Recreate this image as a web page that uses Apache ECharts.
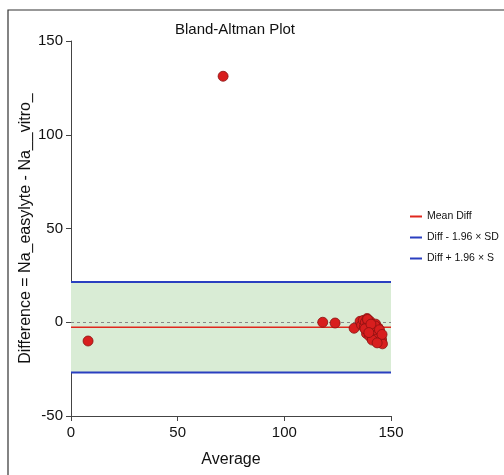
<!DOCTYPE html>
<html><head><meta charset="utf-8">
<script src="https://cdn.jsdelivr.net/npm/echarts@6/dist/echarts.min.js"></script>
<style>html,body{margin:0;padding:0;background:#fff}#c{width:504px;height:475px}</style>
</head><body><div id="c"></div>
<script>
const xTicks = [0, 50, 100, 150];
const yTicks = [-50, 0, 50, 100, 150];
const meanDiff = -2.7;
const lowerLimit = -26.8;
const upperLimit = 21.5;
const avgValues = [8, 71.3, 118, 123.8, 132.7, 135.5, 136.2, 137, 137.5, 138, 138.3, 138.8, 139.2, 139.5, 139.8, 140.2, 140.5, 140.8, 141, 141.3, 141.6, 142, 142.2, 142.5, 142.8, 143, 143.3, 143.6, 144, 144.2, 144.5, 144.8, 145, 145.3, 138.5, 140, 141.8, 143.8, 139, 142.6, 145.6, 137.8, 140.6, 143.2, 144.6, 146, 145.8, 141.2, 143.5, 139.6];
const diffValues = [-10, 131.2, 0, -0.4, -3.2, 0.5, -1.5, 1, -2.5, 0, -4, 2, -1, -5, -2, 0.5, -3, -6, -1.5, -4.5, -2.5, -7, -3.5, -5.5, -1, -8, -4, -6.5, -3, -9, -5, -7.5, -10.5, -8.5, -6, -7.5, -8, -6, 1.5, -2, -9.5, -3.5, -1, -9, -4, -11.5, -6.5, -9.5, -11, -5.5];
const seriesNames = ['Mean Diff', 'Diff - 1.96 × SD', 'Diff + 1.96 × S'];

const points = avgValues.map((x, i) => [x, diffValues[i]]);
const chart = echarts.init(document.getElementById('c'));
const axisColor = '#444';
const ff = 'Liberation Sans';
chart.setOption({
  animation: false,
  title: { text: 'Bland-Altman Plot', left: 230, top: 17, textAlign: 'center',
    textStyle: { fontFamily: ff, fontSize: 15, fontWeight: 'normal', color: '#111' } },
  legend: {
    data: seriesNames, orient: 'vertical', left: 410, top: 211, itemGap: 10, padding: 0,
    icon: 'rect', itemWidth: 12, itemHeight: 2,
    textStyle: { fontFamily: ff, fontSize: 10.5, color: '#111' }
  },
  graphic: [{ type: 'rect', shape: { x: 8, y: 10, width: 520, height: 500 },
    style: { fill: 'none', stroke: '#333', lineWidth: 1.2 }, silent: true, z: -10 }],
  grid: { left: 71, right: 113, top: 41, bottom: 59 },
  xAxis: {
    type: 'value', min: 0, max: 150, interval: 50,
    name: 'Average', nameLocation: 'middle', nameGap: 36, nameMoveOverlap: false,
    nameTextStyle: { fontFamily: ff, fontSize: 16, color: '#111' },
    axisLine: { show: true, onZero: false, lineStyle: { color: axisColor } },
    axisTick: { show: true, length: 5, lineStyle: { color: axisColor } },
    axisLabel: { fontFamily: ff, fontSize: 15, color: '#111', margin: 9 },
    splitLine: { show: false }
  },
  yAxis: {
    type: 'value', min: -50, max: 150, interval: 50,
    name: 'Difference = Na_easylyte - Na__vitro_', nameLocation: 'middle', nameGap: 37, nameMoveOverlap: false,
    nameTextStyle: { fontFamily: ff, fontSize: 16, color: '#111' },
    axisLine: { show: true, lineStyle: { color: axisColor } },
    axisTick: { show: true, length: 5, lineStyle: { color: axisColor } },
    axisLabel: { fontFamily: ff, fontSize: 15, color: '#111', margin: 8 },
    splitLine: { show: false }
  },
  series: [
    { name: seriesNames[0], type: 'line', data: [[0, meanDiff], [150, meanDiff]], symbol: 'none',
      lineStyle: { color: '#e0281e', width: 1.5 }, itemStyle: { color: '#e0281e' }, z: 3,
      markArea: { silent: true, itemStyle: { color: '#d9ecd5' },
        data: [[{ coord: [0, lowerLimit] }, { coord: [150, upperLimit] }]] },
      markLine: { silent: true, symbol: 'none', label: { show: false },
        lineStyle: { color: '#888', type: [3, 3], width: 1 }, data: [{ yAxis: 0 }] } },
    { name: seriesNames[1], type: 'line', data: [[0, lowerLimit], [150, lowerLimit]], symbol: 'none',
      lineStyle: { color: '#2a3fc0', width: 2 }, itemStyle: { color: '#2a3fc0' }, z: 3 },
    { name: seriesNames[2], type: 'line', data: [[0, upperLimit], [150, upperLimit]], symbol: 'none',
      lineStyle: { color: '#2a3fc0', width: 2 }, itemStyle: { color: '#2a3fc0' }, z: 3 },
    { name: 'data', type: 'scatter', data: points, symbolSize: 10, z: 5,
      itemStyle: { color: '#d81e1e', borderColor: '#8a1212', borderWidth: 0.8, opacity: 1 } }
  ]
});
</script></body></html>
